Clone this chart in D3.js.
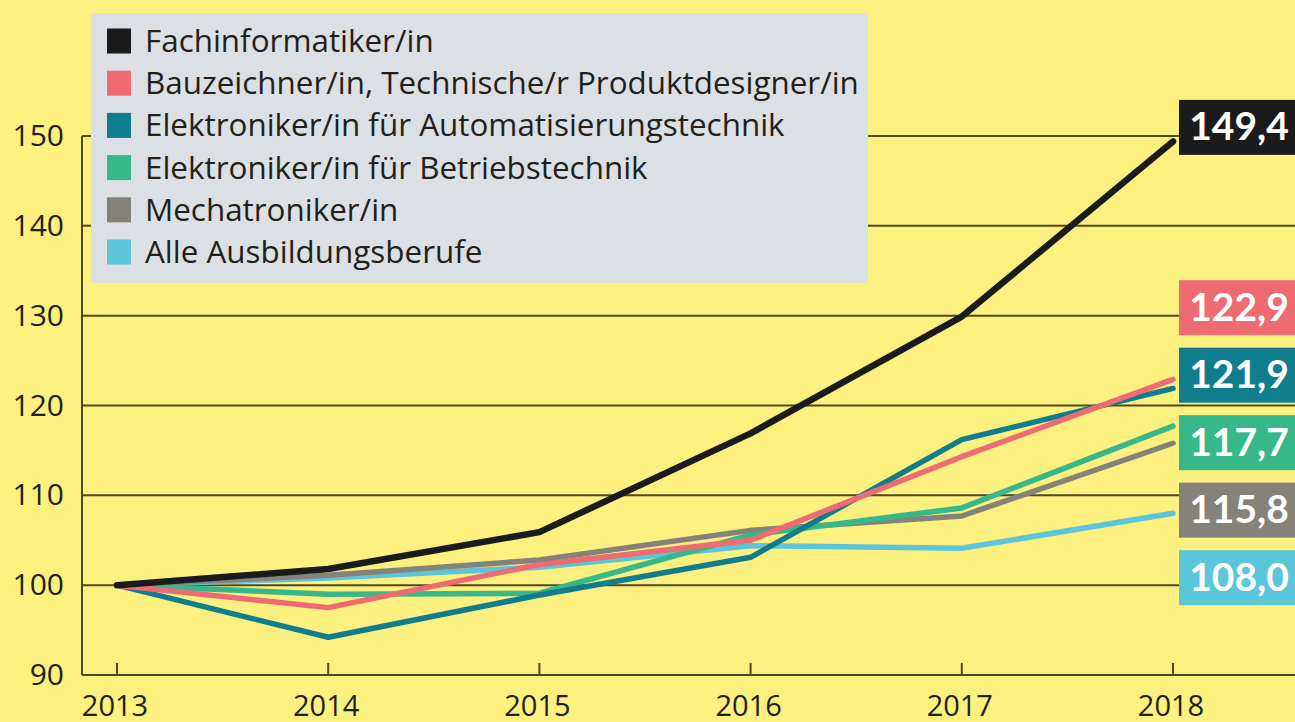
<!DOCTYPE html>
<html>
<head>
<meta charset="utf-8">
<script src="https://cdn.jsdelivr.net/npm/d3@7"></script>
<style>
  html, body { margin: 0; padding: 0; background: #fcf07e; }
  svg { display: block; font-family: "Open Sans", "Noto Sans", sans-serif; }
</style>
</head>
<body>
<svg id="chart" width="1295" height="722"></svg>
<script>
// values (index, 2013 = 100)
let years = [2013, 2014, 2015, 2016, 2017, 2018];
let yTicks = [90, 100, 110, 120, 130, 140, 150];

let names = [
    "Fachinformatiker/in",
    "Bauzeichner/in, Technische/r Produktdesigner/in",
    "Elektroniker/in für Automatisierungstechnik",
    "Elektroniker/in für Betriebstechnik",
    "Mechatroniker/in",
    "Alle Ausbildungsberufe"
];
let colors = ["#1c1b1b", "#ee6b73", "#0f7d8d", "#36b88a", "#85817b", "#5bc6da"];

let fachinformatiker = [100, 101.8, 105.9, 116.9, 129.9, 149.4];
let bauzeichner = [100, 97.5, 102.3, 105.0, 114.3, 122.9];
let automatisierung = [100, 94.2, 98.9, 103.1, 116.2, 121.9];
let betriebstechnik = [100, 99.0, 99.1, 105.6, 108.6, 117.7];
let mechatroniker = [100, 101.1, 102.8, 106.1, 107.7, 115.8];
let alle = [100, 100.8, 102.0, 104.4, 104.1, 108.0];

let values = [fachinformatiker, bauzeichner, automatisierung, betriebstechnik, mechatroniker, alle];

let series = names.map((n, i) => ({ name: n, color: colors[i], values: values[i], order: i }));

let svg = d3.select("#chart");
let width = 1295;

let x = d3.scaleLinear().domain([2013, 2018]).range([117, 1173]);
let y = d3.scaleLinear().domain([90, 150]).range([675, 136]);
let axisLeft = 82;
let axisColor = "#4f4a1e";

// gridlines
svg.append("g")
    .selectAll("line")
    .data(yTicks)
    .enter()
    .append("line")
    .attr("x1", axisLeft)
    .attr("x2", width)
    .attr("y1", d => y(d))
    .attr("y2", d => y(d))
    .style("stroke", axisColor)
    .style("stroke-width", 2);

// vertical axis line
svg.append("line")
    .attr("x1", axisLeft).attr("x2", axisLeft)
    .attr("y1", y(150)).attr("y2", y(90))
    .style("stroke", axisColor)
    .style("stroke-width", 2);

// y labels
svg.append("g")
    .selectAll("text")
    .data(yTicks)
    .enter()
    .append("text")
    .attr("x", 64)
    .attr("y", d => y(d) + 10)
    .attr("text-anchor", "end")
    .style("font-size", "30px")
    .style("fill", "#231f1a")
    .text(d => d);

// x ticks + labels
let xg = svg.append("g").selectAll("g").data(years).enter().append("g");
xg.append("line")
    .attr("x1", d => x(d)).attr("x2", d => x(d))
    .attr("y1", y(90) - 12).attr("y2", y(90))
    .style("stroke", axisColor)
    .style("stroke-width", 2);
xg.append("text")
    .attr("x", d => x(d) - 2)
    .attr("y", 716)
    .attr("text-anchor", "middle")
    .style("font-size", "29px")
    .style("fill", "#231f1a")
    .text(d => d);

// lines, drawn back to front
let line = d3.line()
    .x((d, i) => x(years[i]))
    .y(d => y(d));

let drawOrder = [5, 4, 3, 2, 1, 0];
svg.append("g")
    .selectAll("path")
    .data(drawOrder.map(i => series[i]))
    .enter()
    .append("path")
    .attr("d", d => line(d.values))
    .style("fill", "none")
    .style("stroke", d => d.color)
    .style("stroke-width", d => d.order == 0 ? 6.5 : 5.5)
    .style("stroke-linejoin", "round")
    .style("stroke-linecap", "round");

// end labels: leader sits at its value, the rest stack up from the 100 line
let sorted = series.slice().sort((a, b) => a.values[5] - b.values[5]);
let leader = sorted.pop();
let pitch = 67.5;
sorted.forEach((s, i) => { s.ly = y(100) - 7.5 - i * pitch; });
leader.ly = y(leader.values[5]) - 14;

let boxH = 55;
let labels = svg.append("g")
    .selectAll("g")
    .data(series)
    .enter()
    .append("g");
labels.append("rect")
    .attr("x", 1179)
    .attr("y", d => d.ly - boxH / 2)
    .attr("width", width - 1179)
    .attr("height", boxH)
    .style("fill", d => d.color);
labels.append("text")
    .attr("x", 1239)
    .attr("y", d => d.ly + 13)
    .attr("text-anchor", "middle")
    .style("font-family", "Lato, sans-serif")
    .style("font-size", "39px")
    .style("font-weight", 700)
    .style("fill", "#ffffff")
    .text(d => d3.format(".1f")(d.values[5]).replace(".", ","));

// legend
let legend = svg.append("g");
legend.append("rect")
    .attr("x", 91).attr("y", 13)
    .attr("width", 777).attr("height", 270)
    .style("fill", "#dcdfe3");

let rows = legend.selectAll("g.row")
    .data(series)
    .enter()
    .append("g")
    .attr("class", "row")
    .attr("transform", (d, i) => "translate(0," + (41 + i * 42.2) + ")");
rows.append("rect")
    .attr("x", 107).attr("y", -12.5)
    .attr("width", 24).attr("height", 25)
    .style("fill", d => d.color);
rows.append("text")
    .attr("x", 145)
    .attr("y", 11)
    .style("font-size", "31.4px")
    .style("fill", "#231f1a")
    .text(d => d.name);
</script>
</body>
</html>
